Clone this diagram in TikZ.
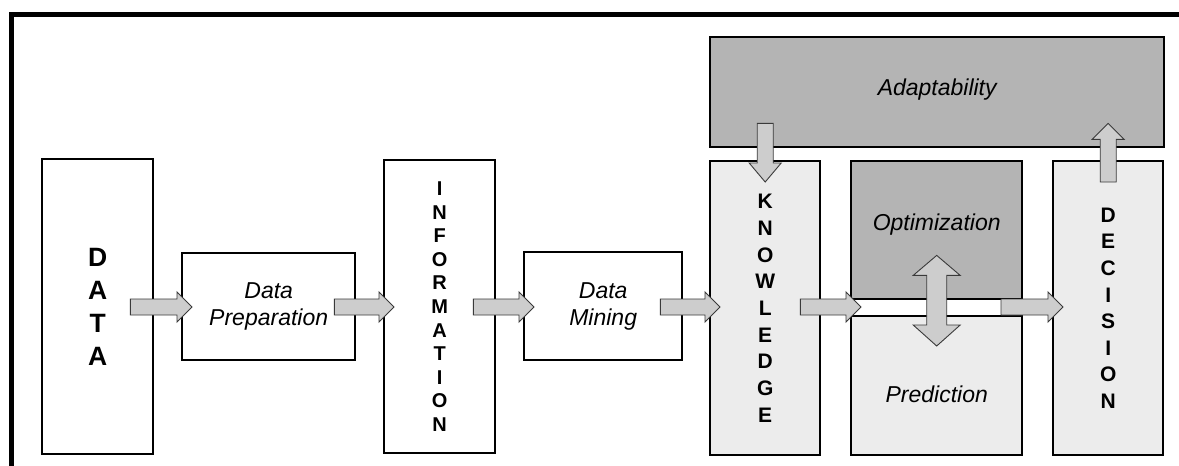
\documentclass[tikz,border=0pt]{standalone}
\usepackage{fontspec}
\setmainfont{Liberation Sans}
\usetikzlibrary{calc}

\definecolor{darkfill}{HTML}{B4B4B4}
\definecolor{lightfill}{HTML}{ECECEC}
\definecolor{arrowfill}{HTML}{CDCDCD}
\definecolor{arrowline}{HTML}{3A3A3A}

\tikzset{
  box/.style={draw=black, line width=2.4pt, rectangle, inner sep=0pt,
              anchor=north west, align=center},
  plainbox/.style={box, fill=white},
  lightbox/.style={box, fill=lightfill},
  darkbox/.style={box, fill=darkfill},
  blk/.style={draw=arrowline, fill=arrowfill, line width=0.9pt, line join=miter},
  itlabel/.style={font=\fontsize{23}{27}\selectfont\itshape},
  bigletters/.style={font=\fontsize{26.5}{33}\selectfont\bfseries},
  letters/.style 2 args={font=\fontsize{#1}{#2}\selectfont\bfseries},
}

% horizontal block arrow: tail anchor, tail shift, head anchor (tip 11pt inside it)
\newcommand\harrow[3]{%
  \draw[blk] let \p1=($(#1 |- axis)+(#2,0)$), \p2=($(#3 |- axis)+(11,0)$) in
    (\x1,\y1-8pt) -- (\x2-15pt,\y1-8pt) -- (\x2-15pt,\y1-15pt) -- (\x2,\y1)
    -- (\x2-15pt,\y1+15pt) -- (\x2-15pt,\y1+8pt) -- (\x1,\y1+8pt) -- cycle;}
% vertical block arrow pointing down
\newcommand\blockdown[2]{%
  \draw[blk] let \p1=(#1), \p2=(#2) in
    (\x1-8pt,\y1) -- (\x1-8pt,\y2+19pt) -- (\x1-16pt,\y2+19pt) -- (\x1,\y2)
    -- (\x1+16pt,\y2+19pt) -- (\x1+8pt,\y2+19pt) -- (\x1+8pt,\y1) -- cycle;}
% vertical block arrow pointing up
\newcommand\blockup[2]{%
  \draw[blk] let \p1=(#1), \p2=(#2) in
    (\x1-8pt,\y1) -- (\x1-8pt,\y2-16pt) -- (\x1-16pt,\y2-16pt) -- (\x1,\y2)
    -- (\x1+16pt,\y2-16pt) -- (\x1+8pt,\y2-16pt) -- (\x1+8pt,\y1) -- cycle;}
% two-headed vertical block arrow between an upper and a lower tip
\newcommand\blockboth[2]{%
  \draw[blk] let \p1=(#1), \p2=(#2) in
    (\x1,\y1) -- (\x1+23.5pt,\y1-20pt) -- (\x1+10pt,\y1-20pt) -- (\x1+10pt,\y2+21pt)
    -- (\x1+23.5pt,\y2+21pt) -- (\x1,\y2) -- (\x1-23.5pt,\y2+21pt) -- (\x1-10pt,\y2+21pt)
    -- (\x1-10pt,\y1-20pt) -- (\x1-23.5pt,\y1-20pt) -- cycle;}

\begin{document}
\begin{tikzpicture}[x=1pt, y=-1pt]
  \useasboundingbox (0,0) rectangle (1179,466);
  \clip (0,0) rectangle (1179,466);

  % outer frame
  \draw[line width=5pt] (11.5,490) -- (11.5,14) -- (1200,14);

  \coordinate (axis) at (0,307);

  % main chain
  \node[plainbox, bigletters, minimum width=111pt, minimum height=295pt] (data) at (41,158)
    {D\\A\\T\\A};
  \node[plainbox, itlabel, minimum width=173pt, minimum height=107pt] (prep) at (181,252)
    {Data\\Preparation};
  \node[plainbox, letters={20}{23.6}, minimum width=111pt, minimum height=293pt] (info) at (383,159)
    {I\\N\\F\\O\\R\\M\\A\\T\\I\\O\\N};
  \node[plainbox, itlabel, minimum width=158pt, minimum height=108pt] (dm) at (523,251)
    {Data\\Mining};
  \node[lightbox, letters={21}{26.7}, minimum width=110pt, minimum height=294pt] (know) at (709,160)
    {K\\N\\O\\W\\L\\E\\D\\G\\E};

  % feedback block
  \node[darkbox, minimum width=454pt, minimum height=110pt] (adapt) at (709,36) {};
  \node[itlabel] (adapttext) at ($(adapt.center)+(0,-3)$) {Adaptability};
  \node[darkbox, minimum width=171pt, minimum height=138pt] (opt) at (850,160) {};
  \node[itlabel] (opttext) at ($(opt.center)+(0,-6)$) {Optimization};
  \node[lightbox, minimum width=171pt, minimum height=139pt] (pred) at (850,315) {};
  \node[itlabel] (predtext) at ($(pred.center)+(0,8.5)$) {Prediction};
  \node[lightbox, letters={21}{26.6}, minimum width=110pt, minimum height=294pt] (dec) at (1052,160)
    {D\\E\\C\\I\\S\\I\\O\\N};

  \coordinate (gapR) at (1001,307);

  % connectors
  \harrow{data.east}{-24}{prep.west}
  \harrow{prep.east}{-22}{info.west}
  \harrow{info.east}{-23}{dm.west}
  \harrow{dm.east}{-23}{know.west}
  \harrow{know.east}{-21}{opt.west}
  \harrow{gapR}{0}{dec.west}
  \blockdown{$(adapt.south -| know.north)+(0,-25)$}{$(know.north)+(0,22)$}
  \blockup{$(dec.north)+(0,22)$}{$(adapt.south -| dec.north)+(0,-25)$}
  \blockboth{$(opt.south)+(0,-45)$}{$(pred.north)+(0,31)$}
\end{tikzpicture}
\end{document}
